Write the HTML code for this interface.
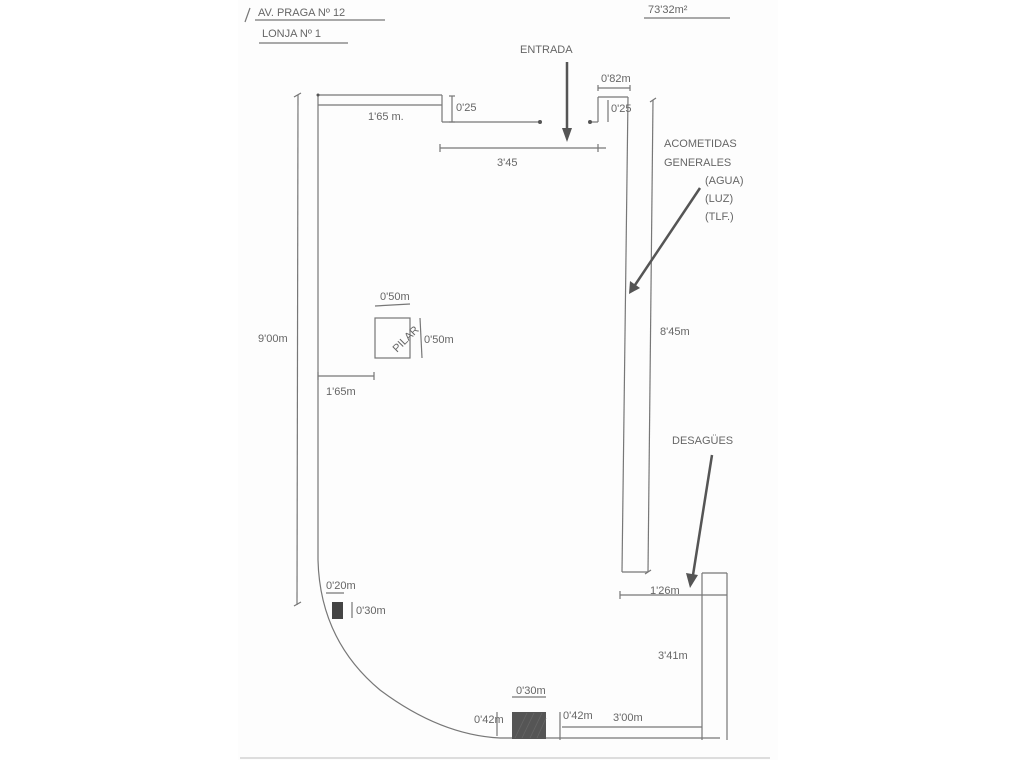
<!DOCTYPE html>
<html><head><meta charset="utf-8"><style>
html,body{margin:0;padding:0;background:#fff;width:1024px;height:768px;overflow:hidden}
svg{display:block}
text{font-family:"Liberation Sans",sans-serif;fill:#666;font-size:11px}
</style></head><body>
<svg width="1024" height="768" viewBox="0 0 1024 768">
<rect width="1024" height="768" fill="#fff"/>
<rect x="238" y="0" width="540" height="760" fill="#fdfdfd"/>
<line x1="240" y1="758" x2="770" y2="758" stroke="#ddd" stroke-width="2"/>
<g stroke="#777" stroke-width="1.2" fill="none">
<!-- header -->
<line x1="255" y1="20" x2="385" y2="20"/>
<line x1="259" y1="43" x2="348" y2="43"/>
<line x1="644" y1="18" x2="730" y2="18"/>
<line x1="250" y1="8" x2="245" y2="22"/>
<!-- top-left wall -->
<line x1="318" y1="95" x2="442" y2="95"/>
<line x1="318" y1="105" x2="442" y2="105"/>
<line x1="442" y1="95" x2="442" y2="122"/>
<line x1="442" y1="122" x2="540" y2="122"/>
<line x1="452" y1="96" x2="452" y2="122"/>
<line x1="449" y1="96" x2="455" y2="96"/><line x1="449" y1="122" x2="455" y2="122"/>
<!-- left wall with curve -->
<path d="M318 95 L318 560 Q320 640 380 690 Q440 735 500 738"/>
<line x1="500" y1="738" x2="720" y2="738"/>
<line x1="562" y1="727" x2="702" y2="727"/>
<line x1="702" y1="573" x2="702" y2="740"/>
<line x1="727" y1="573" x2="727" y2="740"/>
<line x1="702" y1="573" x2="727" y2="573"/>
<!-- right wall -->
<line x1="598" y1="122" x2="598" y2="97"/>
<line x1="598" y1="97" x2="628" y2="97"/>
<line x1="628" y1="97" x2="622" y2="572"/>
<line x1="622" y1="572" x2="648" y2="572"/>
<line x1="590" y1="122" x2="598" y2="122"/>
<line x1="608" y1="100" x2="608" y2="122"/>
<!-- dimension lines -->
<line x1="298" y1="95" x2="297" y2="605"/>
<line x1="294" y1="97" x2="301" y2="93"/><line x1="294" y1="606" x2="301" y2="602"/>
<line x1="653" y1="100" x2="648" y2="572"/>
<line x1="650" y1="102" x2="656" y2="98"/><line x1="645" y1="574" x2="651" y2="570"/>
<line x1="440" y1="148" x2="606" y2="148"/>
<line x1="440" y1="144" x2="440" y2="152"/><line x1="598" y1="144" x2="598" y2="152"/>
<line x1="598" y1="88" x2="630" y2="88"/>
<line x1="598" y1="85" x2="598" y2="91"/><line x1="630" y1="85" x2="630" y2="91"/>
<line x1="318" y1="376" x2="374" y2="376"/>
<line x1="318" y1="372" x2="318" y2="380"/><line x1="374" y1="372" x2="374" y2="380"/>
<line x1="375" y1="306" x2="410" y2="304"/>
<line x1="420" y1="318" x2="422" y2="358"/>
<line x1="620" y1="595" x2="727" y2="595"/>
<line x1="620" y1="591" x2="620" y2="599"/>
<line x1="326" y1="593" x2="344" y2="593"/>
<line x1="352" y1="602" x2="352" y2="618"/>
<line x1="497" y1="712" x2="497" y2="736"/>
<line x1="560" y1="712" x2="560" y2="740"/>
<line x1="512" y1="697" x2="546" y2="697"/>
<!-- pillar -->
<rect x="375" y="318" width="35" height="40"/>
</g>
<circle cx="540" cy="122" r="2" fill="#555"/>
<circle cx="590" cy="122" r="2" fill="#555"/>
<circle cx="318" cy="95" r="1.5" fill="#555"/>
<rect x="332" y="602" width="11" height="17" fill="#444"/>
<rect x="512" y="712" width="34" height="27" fill="#555"/>
<g stroke="#666" stroke-width="0.8">
<line x1="515" y1="738" x2="527" y2="713"/><line x1="522" y1="738" x2="534" y2="713"/><line x1="530" y1="738" x2="542" y2="713"/><line x1="537" y1="738" x2="546" y2="718"/>
</g>
<!-- arrows -->
<g stroke="#555" stroke-width="2.5" fill="#555">
<line x1="567" y1="62" x2="567" y2="132"/>
<polygon points="562,128 572,128 567,142" stroke="none"/>
<line x1="700" y1="188" x2="635" y2="285"/>
<polygon points="629,294 630,281 640,288" stroke="none"/>
<line x1="712" y1="455" x2="693" y2="575"/>
<polygon points="690,588 686,573 698,575" stroke="none"/>
</g>
<text x="258" y="16" font-size="12">AV. PRAGA Nº 12</text>
<text x="262" y="37" font-size="11">LONJA Nº 1</text>
<text x="648" y="13" font-size="12" fill="#888">73'32m²</text>
<text x="520" y="53">ENTRADA</text>
<text x="368" y="120">1'65 m.</text>
<text x="456" y="111" font-size="10">0'25</text>
<text x="497" y="166" font-size="12">3'45</text>
<text x="601" y="82" font-size="9">0'82m</text>
<text x="611" y="112" font-size="9">0'25</text>
<text x="664" y="147" font-size="10">ACOMETIDAS</text>
<text x="664" y="166" font-size="10">GENERALES</text>
<text x="705" y="184" font-size="10">(AGUA)</text>
<text x="705" y="202" font-size="10">(LUZ)</text>
<text x="705" y="220" font-size="10">(TLF.)</text>
<text x="258" y="342" font-size="10">9'00m</text>
<text x="660" y="335" font-size="13">8'45m</text>
<text x="380" y="300" font-size="10">0'50m</text>
<text x="424" y="343" font-size="10">0'50m</text>
<text x="385" y="352" font-size="9" transform="rotate(-45 392 338)">PILAR</text>
<text x="326" y="395" font-size="11">1'65m</text>
<text x="672" y="444" font-size="10">DESAGÜES</text>
<text x="650" y="594" font-size="10">1'26m</text>
<text x="326" y="589" font-size="8">0'20m</text>
<text x="356" y="614" font-size="10">0'30m</text>
<text x="658" y="659" font-size="12">3'41m</text>
<text x="516" y="694" font-size="10">0'30m</text>
<text x="474" y="723" font-size="8">0'42m</text>
<text x="563" y="719" font-size="9">0'42m</text>
<text x="613" y="721" font-size="11">3'00m</text>
</svg>
</body></html>
